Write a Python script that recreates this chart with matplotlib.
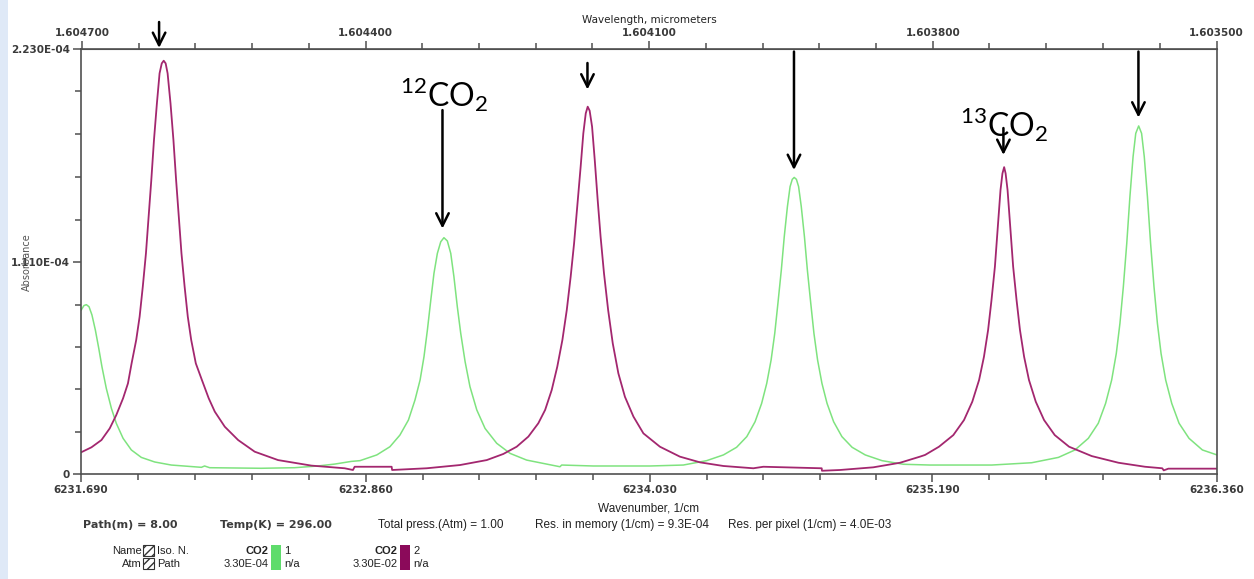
import numpy as np
import matplotlib.pyplot as plt
from matplotlib.patches import Rectangle

# CO2 isotopologue 1 (12CO2): wavenumber (1/cm) and absorbance in units of 1e-4
wn_iso1 = [6231.691, 6231.702, 6231.712, 6231.723, 6231.735, 6231.749, 6231.763, 6231.776,
           6231.794, 6231.815, 6231.835, 6231.863, 6231.897, 6231.938, 6231.993, 6232.061,
           6232.185, 6232.198, 6232.219, 6232.431, 6232.568, 6232.664, 6232.733, 6232.801,
           6232.837, 6232.906, 6232.960, 6233.001, 6233.036, 6233.063, 6233.084, 6233.100,
           6233.114, 6233.128, 6233.141, 6233.155, 6233.169, 6233.182, 6233.196, 6233.210,
           6233.223, 6233.237, 6233.251, 6233.269, 6233.289, 6233.317, 6233.351, 6233.399,
           6233.454, 6233.522, 6233.604, 6233.659, 6233.666, 6233.796, 6234.029, 6234.166,
           6234.262, 6234.331, 6234.385, 6234.427, 6234.461, 6234.488, 6234.509, 6234.527,
           6234.542, 6234.555, 6234.569, 6234.581, 6234.594, 6234.605, 6234.614, 6234.622,
           6234.631, 6234.640, 6234.651, 6234.664, 6234.676, 6234.690, 6234.703, 6234.718,
           6234.736, 6234.757, 6234.784, 6234.818, 6234.860, 6234.914, 6234.983, 6235.071,
           6235.180, 6235.434, 6235.598, 6235.708, 6235.776, 6235.831, 6235.872, 6235.902,
           6235.927, 6235.946, 6235.961, 6235.975, 6235.989, 6236.002, 6236.015, 6236.026,
           6236.038, 6236.050, 6236.061, 6236.074, 6236.087, 6236.101, 6236.115, 6236.130,
           6236.149, 6236.174, 6236.204, 6236.245, 6236.300, 6236.360]
abs_iso1 = [0.860, 0.883, 0.888, 0.877, 0.834, 0.755, 0.659, 0.563,
            0.449, 0.344, 0.266, 0.187, 0.126, 0.087, 0.063, 0.047,
            0.035, 0.042, 0.033, 0.030, 0.033, 0.042, 0.052, 0.066,
            0.070, 0.100, 0.143, 0.204, 0.283, 0.388, 0.493, 0.615,
            0.755, 0.912, 1.052, 1.157, 1.218, 1.239, 1.222, 1.157,
            1.035, 0.877, 0.738, 0.589, 0.458, 0.336, 0.239, 0.161,
            0.108, 0.073, 0.052, 0.038, 0.047, 0.042, 0.042, 0.047,
            0.070, 0.100, 0.140, 0.196, 0.274, 0.370, 0.475, 0.598,
            0.738, 0.895, 1.070, 1.244, 1.402, 1.507, 1.545, 1.555,
            1.545, 1.507, 1.402, 1.244, 1.070, 0.895, 0.738, 0.598,
            0.475, 0.370, 0.274, 0.196, 0.140, 0.100, 0.070, 0.051,
            0.047, 0.047, 0.059, 0.087, 0.126, 0.187, 0.266, 0.370,
            0.493, 0.632, 0.790, 0.982, 1.209, 1.454, 1.664, 1.786,
            1.825, 1.786, 1.664, 1.454, 1.209, 0.982, 0.790, 0.632,
            0.493, 0.370, 0.266, 0.187, 0.126, 0.100]

# CO2 isotopologue 2 (13CO2)
wn_iso2 = [6231.691, 6231.733, 6231.774, 6231.808, 6231.835, 6231.863, 6231.883, 6231.898,
           6231.917, 6231.931, 6231.944, 6231.957, 6231.967, 6231.979, 6231.990, 6232.002,
           6232.013, 6232.022, 6232.030, 6232.038, 6232.046, 6232.058, 6232.070, 6232.081,
           6232.093, 6232.103, 6232.116, 6232.129, 6232.143, 6232.162, 6232.187, 6232.215,
           6232.240, 6232.281, 6232.336, 6232.404, 6232.500, 6232.637, 6232.774, 6232.808,
           6232.815, 6232.967, 6232.969, 6233.111, 6233.248, 6233.358, 6233.426, 6233.481,
           6233.529, 6233.570, 6233.598, 6233.625, 6233.648, 6233.669, 6233.687, 6233.703,
           6233.717, 6233.730, 6233.744, 6233.755, 6233.765, 6233.773, 6233.781, 6233.791,
           6233.802, 6233.814, 6233.826, 6233.840, 6233.857, 6233.876, 6233.899, 6233.926,
           6233.961, 6234.002, 6234.070, 6234.152, 6234.235, 6234.331, 6234.454, 6234.495,
           6234.735, 6234.736, 6234.810, 6234.947, 6235.057, 6235.139, 6235.160, 6235.217,
           6235.276, 6235.320, 6235.354, 6235.382, 6235.402, 6235.419, 6235.433, 6235.447,
           6235.459, 6235.470, 6235.478, 6235.485, 6235.491, 6235.499, 6235.510, 6235.522,
           6235.536, 6235.550, 6235.567, 6235.587, 6235.615, 6235.649, 6235.693, 6235.752,
           6235.845, 6235.955, 6236.064, 6236.135, 6236.141, 6236.160, 6236.360]
abs_iso2 = [0.114, 0.140, 0.178, 0.239, 0.309, 0.397, 0.475, 0.580,
            0.703, 0.825, 0.982, 1.157, 1.332, 1.541, 1.751, 1.943,
            2.101, 2.153, 2.167, 2.153, 2.101, 1.943, 1.751, 1.541,
            1.332, 1.157, 0.982, 0.825, 0.703, 0.580, 0.493, 0.397,
            0.327, 0.248, 0.178, 0.117, 0.073, 0.044, 0.030, 0.021,
            0.038, 0.038, 0.021, 0.030, 0.047, 0.073, 0.105, 0.143,
            0.196, 0.266, 0.336, 0.440, 0.563, 0.703, 0.860, 1.035,
            1.209, 1.402, 1.611, 1.786, 1.891, 1.926, 1.905, 1.821,
            1.646, 1.437, 1.244, 1.052, 0.860, 0.685, 0.528, 0.405,
            0.301, 0.213, 0.143, 0.091, 0.061, 0.042, 0.030, 0.038,
            0.030, 0.017, 0.021, 0.035, 0.059, 0.091, 0.100, 0.143,
            0.204, 0.283, 0.379, 0.493, 0.615, 0.755, 0.912, 1.087,
            1.297, 1.489, 1.576, 1.609, 1.576, 1.489, 1.297, 1.087,
            0.912, 0.755, 0.615, 0.493, 0.379, 0.283, 0.204, 0.143,
            0.094, 0.059, 0.038, 0.030, 0.019, 0.028, 0.028]

# axis ticks
wn_ticks = [6231.690, 6232.860, 6234.030, 6235.190, 6236.360]
wl_ticks = [1.604700, 1.604400, 1.604100, 1.603800, 1.603500]
abs_ticks = [0, 1.11e-4, 2.23e-4]
abs_ticklabels = ['0', '1.110E-04', '2.230E-04']

# line markers: (wavenumber, arrow tail, arrow tip), absorbance in units of 1e-4
arrows = [(6232.011, 2.370, 2.234),
          (6233.176, 1.908, 1.287),
          (6233.772, 2.155, 2.016),
          (6234.621, 2.215, 1.594),
          (6235.482, 1.814, 1.673),
          (6236.037, 2.215, 1.869)]
species = [(6233.001, 1.924, r'$^{12}$CO$_2$'),
           (6235.304, 1.767, r'$^{13}$CO$_2$')]

green = '#7fe37f'
purple = '#a3276f'
axcol = '#505050'
txtcol = '#3a3a3a'

plt.rcParams['mathtext.fontset'] = 'custom'
plt.rcParams['mathtext.rm'] = 'Lato'

W, H = 1254, 579
fig = plt.figure(figsize=(W / 100, H / 100), dpi=100)


def fx(px):
    return px / W


def fy(py):
    return 1 - py / H


ax = fig.add_axes([fx(81), fy(474), fx(1217) - fx(81), fy(48.7) - fy(474)])
ax.plot(wn_iso1, np.array(abs_iso1) * 1e-4, color=green, lw=1.1)
ax.plot(wn_iso2, np.array(abs_iso2) * 1e-4, color=purple, lw=1.3)
ax.set_xlim(wn_ticks[0], wn_ticks[-1])
ax.set_ylim(abs_ticks[0], abs_ticks[-1])

for s in ax.spines.values():
    s.set_color(axcol)
    s.set_linewidth(1.2)

tickfont = dict(fontsize=7.5, fontweight='bold', color=txtcol)

ax.set_xticks(wn_ticks)
ax.set_xticklabels([f'{t:.3f}' for t in wn_ticks], **tickfont)
minor_x = np.concatenate([np.linspace(a, b, 6)[1:-1] for a, b in zip(wn_ticks[:-1], wn_ticks[1:])])
ax.set_xticks(minor_x, minor=True)
ax.set_yticks(abs_ticks)
ax.set_yticklabels(abs_ticklabels, **tickfont)
minor_y = np.concatenate([np.linspace(a, b, 6)[1:-1] for a, b in zip(abs_ticks[:-1], abs_ticks[1:])])
ax.set_yticks(minor_y, minor=True)
ax.tick_params(which='major', direction='out', length=6, width=1.1, color=axcol, pad=2)
ax.tick_params(which='minor', direction='out', length=4, width=1.1, color=axcol)
ax.set_xlabel('Wavenumber, 1/cm', fontsize=8.5, family='Liberation Sans', color='#222', labelpad=5)

top = ax.secondary_xaxis('top', functions=(lambda x: 1e4 / x, lambda x: 1e4 / x))
top.set_xticks(wl_ticks)
top.set_xticklabels([f'{t:.6f}' for t in wl_ticks], **tickfont)
minor_wl = np.concatenate([np.linspace(a, b, 6)[1:-1] for a, b in zip(wl_ticks[:-1], wl_ticks[1:])])
top.set_xticks(minor_wl, minor=True)
top.tick_params(which='major', direction='out', length=6, width=1.1, color=axcol, pad=2)
top.tick_params(which='minor', direction='out', length=4, width=1.1, color=axcol)
top.spines['top'].set_color(axcol)
top.set_xlabel('Wavelength, micrometers', fontsize=7.5, color='#222', labelpad=3)

fig.text(fx(27), fy(262), 'Absorbance', rotation=90, ha='center', va='center',
         fontsize=7, color='#555')

for x, tail, tip in arrows:
    ax.annotate('', xy=(x, tip * 1e-4), xytext=(x, tail * 1e-4),
                arrowprops=dict(arrowstyle='->,head_length=0.6,head_width=0.3',
                                lw=1.8, color='black', mutation_scale=15,
                                shrinkA=0, shrinkB=0),
                annotation_clip=False)
for x, y, label in species:
    ax.text(x, y * 1e-4, label, fontsize=23, family='Lato', ha='left', va='baseline')

# run parameters under the plot
info = [(83, 'Path(m) = 8.00', 'DejaVu Sans', 8, 'bold'),
        (220, 'Temp(K) = 296.00', 'DejaVu Sans', 8, 'bold'),
        (378, 'Total press.(Atm) = 1.00', 'Liberation Sans', 8.5, 'normal'),
        (535, 'Res. in memory (1/cm) = 9.3E-04', 'Liberation Sans', 8.5, 'normal'),
        (728, 'Res. per pixel (1/cm) = 4.0E-03', 'Liberation Sans', 8.5, 'normal')]
for px, s, fam, sz, wt in info:
    col = '#3c3c3c' if wt == 'bold' else '#222'
    fig.text(fx(px), fy(525), s, family=fam, fontsize=sz, fontweight=wt, color=col, va='center')

# gas legend
row1, row2 = fy(551), fy(564)
leg = dict(family='Liberation Sans', fontsize=8, color='#222', va='center')
fig.text(fx(142), row1, 'Name', ha='right', **leg)
fig.text(fx(142), row2, 'Atm', ha='right', **leg)
fig.text(fx(157), row1, 'Iso. N.', ha='left', **leg)
fig.text(fx(157), row2, 'Path', ha='left', **leg)
for py in (545, 558):
    fig.patches.append(Rectangle((fx(143), fy(py + 11)), fx(11), 11 / H, transform=fig.transFigure,
                                 facecolor='white', edgecolor='#333', lw=0.8, hatch='////'))

gases = [('CO2', '3.30E-04', '1', '#5fdc6c', 269),
         ('CO2', '3.30E-02', '2', '#8b0a5a', 398)]
for name, conc, iso, col, px in gases:
    fig.text(fx(px), row1, name, ha='right', fontweight='bold', **leg)
    fig.text(fx(px), row2, conc, ha='right', **leg)
    fig.patches.append(Rectangle((fx(px + 2), fy(570)), fx(10), 25 / H, transform=fig.transFigure,
                                 facecolor=col, edgecolor='none'))
    fig.text(fx(px + 15), row1, iso, ha='left', **leg)
    fig.text(fx(px + 15), row2, 'n/a', ha='left', **leg)

# pale slide edge on the left
fig.patches.append(Rectangle((0, 0), fx(8), 1, transform=fig.transFigure,
                             facecolor='#dfe9f7', edgecolor='none', zorder=5))

fig.savefig('out.png', dpi=100, facecolor='white')
